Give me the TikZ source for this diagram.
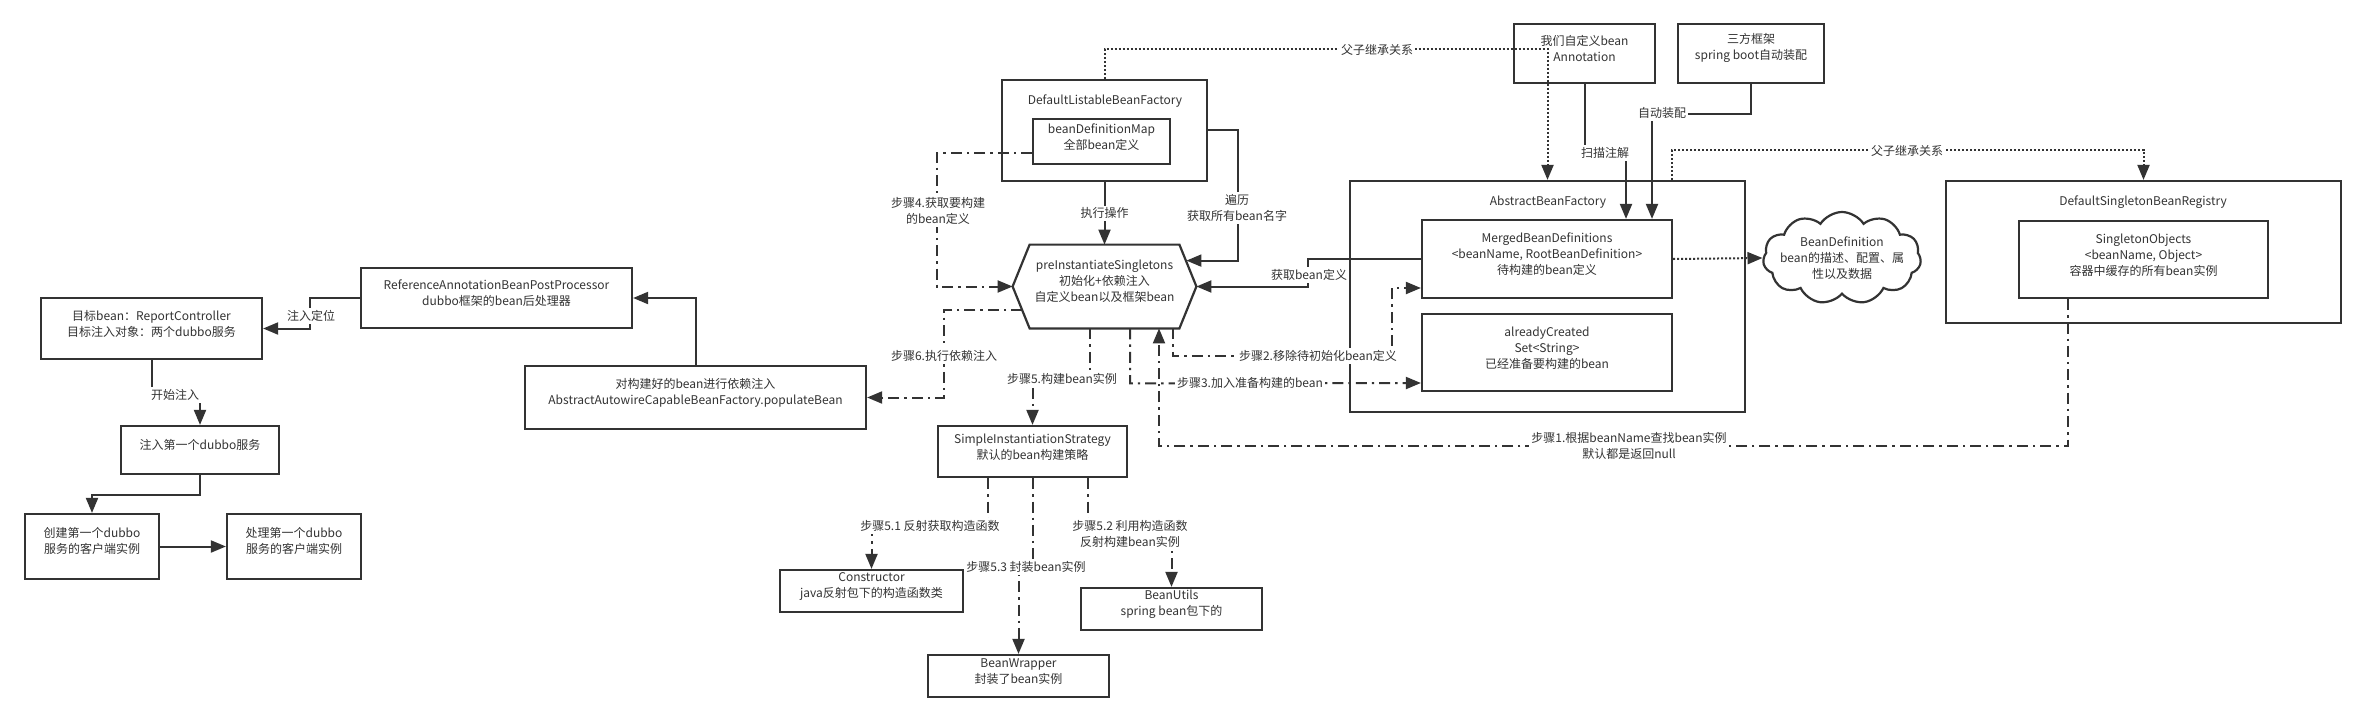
\documentclass[tikz,border=0pt]{standalone}
\usepackage{fontspec}
\setmainfont{Noto Sans CJK SC}
\usetikzlibrary{arrows.meta,calc,fit,shapes.symbols}
\definecolor{ink}{HTML}{333333}
\begin{document}
\begin{tikzpicture}[x=0.5pt,y=-0.5pt,
  every node/.style={font=\fontsize{6}{8}\selectfont, text=ink},
  box/.style={draw=ink, line width=1.1pt, inner sep=0pt, align=center},
  conn/.style={draw=ink, line width=1pt},
  arr/.style={conn, -{Triangle[length=7.5pt,width=6pt]}},
  dashdot/.style={dash pattern=on 5.5pt off 2.5pt on 1.2pt off 2.5pt},
  dots/.style={dash pattern=on 1pt off 1pt},
  lbl/.style={fill=white, inner sep=1pt, align=center},
  title/.style={align=center}]

\fill[white] (0,0) rectangle (2366,722);
\useasboundingbox (0,0) rectangle (2366,722);

% left part
\node[box, fit={(41,298) (262,359)}] (target) {目标bean：ReportController\\目标注入对象：两个dubbo服务};
\node[box, fit={(361,268) (632,328)}] (ref) {ReferenceAnnotationBeanPostProcessor\\dubbo框架的bean后处理器};
\node[box, fit={(121,426) (279,474)}] (inject) {注入第一个dubbo服务};
\node[box, fit={(25,514) (159,579)}] (create) {创建第一个dubbo\\服务的客户端实例};
\node[box, fit={(227,514) (361,579)}] (handle) {处理第一个dubbo\\服务的客户端实例};
\node[box, fit={(525,366) (866,429)}] (populate) {对构建好的bean进行依赖注入\\AbstractAutowireCapableBeanFactory.populateBean};

% DefaultListableBeanFactory
\node[box, fit={(1002,80) (1207,181)}] (dlbf) {};
\node[title] (dlbft) at (1105,101) {DefaultListableBeanFactory};
\node[box, fit={(1033,119) (1170,164)}] (bdm) {beanDefinitionMap\\全部bean定义};

% hexagon
\node[fit={(1013,245) (1196,328)}, inner sep=0pt, align=center] (hex) {preInstantiateSingletons\\初始化+依赖注入\\自定义bean以及框架bean};
\draw[ink, line width=1.1pt] ($(hex.north west)+(17,0)$) -- ($(hex.north east)+(-17,0)$) -- (hex.east) -- ($(hex.south east)+(-17,0)$) -- ($(hex.south west)+(17,0)$) -- (hex.west) -- cycle;

% strategy and helpers
\node[box, fit={(938,426) (1127,477)}] (simple) {SimpleInstantiationStrategy\\默认的bean构建策略};
\node[box, fit={(780,570) (963,612)}] (ctor) {Constructor\\java反射包下的构造函数类};
\node[box, fit={(1081,588) (1262,630)}] (utils) {BeanUtils\\spring bean包下的};
\node[box, fit={(928,655) (1109,697)}] (wrapper) {BeanWrapper\\封装了bean实例};

% right part
\node[box, fit={(1514,24) (1655,83)}] (annot) {我们自定义bean\\Annotation};
\node[box, fit={(1678,24) (1824,83)}] (third) {三方框架\\spring boot自动装配};
\node[box, fit={(1350,181) (1745,412)}] (abf) {};
\node[title] (abft) at (1548,202) {AbstractBeanFactory};
\node[box, fit={(1422,220) (1672,298)}] (merged) {MergedBeanDefinitions\\<beanName, RootBeanDefinition>\\待构建的bean定义};
\node[box, fit={(1422,314) (1672,391)}] (created) {alreadyCreated\\Set<String>\\已经准备要构建的bean};
\node[draw=ink, line width=1.1pt, cloud, cloud puffs=11, cloud puff arc=115, aspect=1.7, minimum width=79pt, minimum height=46pt, inner sep=0pt] (cloud) at (1842,258) {};
\node[align=center] (cloudt) at (cloud.center) {BeanDefinition\\bean的描述、配置、属\\性以及数据};
\node[box, fit={(1946,181) (2341,323)}] (dsbr) {};
\node[title] (dsbrt) at (2143,202) {DefaultSingletonBeanRegistry};
\node[box, fit={(2019,221) (2268,298)}] (singleton) {SingletonObjects\\<beanName, Object>\\容器中缓存的所有bean实例};

% ---- connectors ----
\draw[arr] (ref.west) -- ++(-50,0) |- (target.east);
\node[lbl] at (311,316) {注入定位};
\draw[arr] (target.south) -- ++(0,36) -| (inject.north);
\node[lbl] at (175,395) {开始注入};
\draw[arr] (inject.south) -- ++(0,20) -| (create.north);
\draw[arr] (create.east) -- (handle.west);
\draw[arr] (populate.north) |- (ref.east);

\draw[arr] (dlbf.south) -- (hex.north) node[lbl, midway] {执行操作};
\draw[arr] (dlbf.east) -- ++(30,0) |- ($(hex.north east)+(-10,16)$);
\node[lbl] at (1237,208) {遍历\\获取所有bean名字};
\draw[arr, dashdot] ($(bdm.west)+(0,11.5)$) -- ++(-95,0) |- (hex.west);
\node[lbl] at (938,211) {步骤4.获取要构建\\的bean定义};
\draw[arr] (merged.west) -- ++(-113,0) |- (hex.east);
\node[lbl] at (1309,275) {获取bean定义};
\draw[arr, dashdot] ($(hex.west)+(9.6,23.5)$) -- ++(-78.6,0) |- (populate.east);
\node[lbl] at (944,356) {步骤6.执行依赖注入};
\draw[arr, dashdot] ($(hex.south)+(-14.5,0)$) -- ++(0,51) -| (simple.north);
\node[lbl] at (1062,379) {步骤5.构建bean实例};
\draw[arr, dashdot] ($(hex.south)+(25.5,0)$) -- ++(0,55) -- ($(created.west)+(0,30.5)$);
\node[lbl] at (1250,383) {步骤3.加入准备构建的bean};
\draw[arr, dashdot] ($(hex.south)+(68.5,0)$) -- ++(0,28) -| ($(merged.west)+(-29,29)$) -- ($(merged.west)+(0,29)$);
\node[lbl] at (1318,356) {步骤2.移除待初始化bean定义};
\draw[arr, dashdot] ($(singleton.south)+(-75.5,0)$) -- ++(0,147) -| ($(hex.south)+(54.5,0)$);
\node[lbl] at (1629,446) {步骤1.根据beanName查找bean实例\\默认都是返回null};

\draw[arr, dashdot] ($(simple.south)+(-44.5,0)$) -- ++(0,49) -| (ctor.north);
\node[lbl] at (930,526) {步骤5.1 反射获取构造函数};
\draw[arr, dashdot] (simple.south) -- ++(0,90) -| (wrapper.north);
\node[lbl] at (1026,567) {步骤5.3 封装bean实例};
\draw[arr, dashdot] ($(simple.south)+(55.5,0)$) -- ++(0,57) -| (utils.north);
\node[lbl] at (1130,534) {步骤5.2 利用构造函数\\反射构建bean实例};

\draw[arr] (annot.south) -- ++(0,70) -| ($(merged.north)+(79,0)$);
\node[lbl] at (1605,153) {扫描注解};
\draw[arr] (third.south) -- ++(0,30) -| ($(merged.north)+(105,0)$);
\node[lbl] at (1662,113) {自动装配};

\draw[arr, dots] (dlbf.north) -- ++(0,-30) -| (abf.north);
\node[lbl] at (1377,50) {父子继承关系};
\draw[arr, dots] ($(abf.north)+(124.5,0)$) -- ++(0,-30) -| (dsbr.north);
\node[lbl] at (1907,151) {父子继承关系};
\draw[arr, dots] (merged.east) -- (cloud.west);
\end{tikzpicture}
\end{document}
